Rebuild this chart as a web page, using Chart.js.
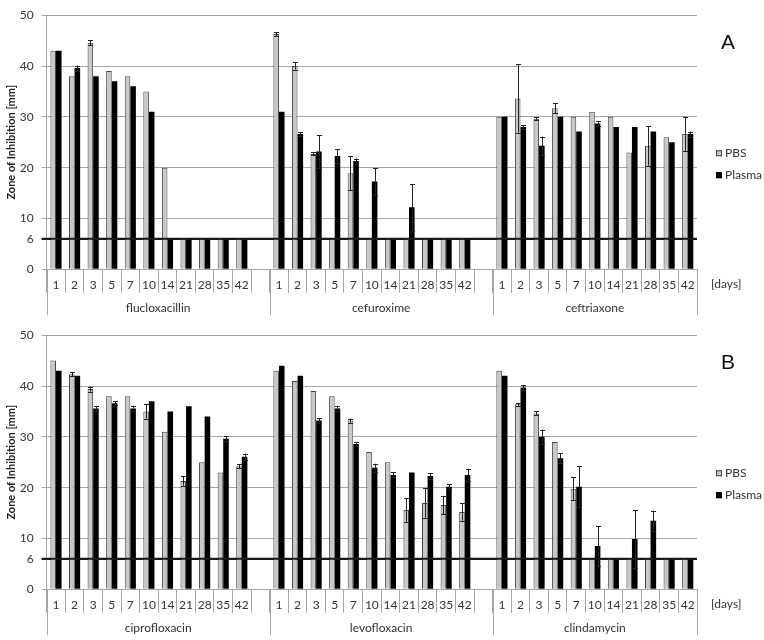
<!DOCTYPE html>
<html><head><meta charset="utf-8">
<script src="https://cdn.jsdelivr.net/npm/chart.js@4.4.1/dist/chart.umd.min.js"></script>
<style>html,body{margin:0;padding:0;background:#fff;}canvas{display:block;}</style>
</head><body>
<canvas id="cA" width="764" height="320"></canvas>
<canvas id="cB" width="764" height="320"></canvas>
<script>
// ---- data ----
const days = ['1','2','3','5','7','10','14','21','28','35','42'];
const yTickValues = [0, 6, 10, 20, 30, 40, 50];
const thresholdValue = 6;
const seriesNames = ['PBS', 'Plasma'];
const panelA_groups = ['flucloxacillin', 'cefuroxime', 'ceftriaxone'];
const panelB_groups = ['ciprofloxacin', 'levofloxacin', 'clindamycin'];

const flucloxacillin_PBS        = [43, 38, 44.6, 39, 38, 35, 20, 6, 6, 6, 6];
const flucloxacillin_PBS_err    = [0, 0, 0.5, 0, 0, 0, 0, 0, 0, 0, 0];
const flucloxacillin_Plasma     = [43, 39.6, 38, 37, 36, 31, 6, 6, 6, 6, 6];
const flucloxacillin_Plasma_err = [0, 0.5, 0, 0, 0, 0, 0, 0, 0, 0, 0];

const cefuroxime_PBS        = [46.3, 40, 22.7, 6, 18.9, 6, 6, 6, 6, 6, 6];
const cefuroxime_PBS_err    = [0.4, 0.7, 0.3, 0, 3.3, 0, 0, 0, 0, 0, 0];
const cefuroxime_Plasma     = [31, 26.6, 23.2, 22.3, 21.3, 17.3, 6, 12.2, 6, 6, 6];
const cefuroxime_Plasma_err = [0, 0.4, 3.2, 1.3, 0.5, 2.6, 0, 4.6, 0, 0, 0];

const ceftriaxone_PBS        = [30, 33.6, 29.6, 31.7, 30, 31, 30, 23, 24.3, 26, 26.6];
const ceftriaxone_PBS_err    = [0, 6.7, 0.3, 1.0, 0, 0, 0, 0, 3.9, 0, 3.4];
const ceftriaxone_Plasma     = [30, 28, 24.3, 30, 27.1, 28.7, 28, 28, 27.1, 25, 26.6];
const ceftriaxone_Plasma_err = [0, 0.3, 1.8, 0, 0, 0.5, 0, 0, 0, 0, 0.5];

const ciprofloxacin_PBS        = [45, 42.3, 39.4, 38, 38, 35, 31, 21.3, 25, 23, 24.2];
const ciprofloxacin_PBS_err    = [0, 0.4, 0.5, 0, 0, 1.4, 0, 0.9, 0, 0, 0.4];
const ciprofloxacin_Plasma     = [43, 42, 35.6, 36.6, 35.6, 37, 35, 36, 34, 29.6, 26.1];
const ciprofloxacin_Plasma_err = [0, 0, 0.5, 0.4, 0.5, 0, 0, 0, 0, 0.5, 0.6];

const levofloxacin_PBS        = [43, 41, 39, 38, 33.2, 27, 25, 15.6, 17, 16.6, 15.2];
const levofloxacin_PBS_err    = [0, 0, 0, 0, 0.4, 0, 0, 2.3, 2.9, 1.8, 1.7];
const levofloxacin_Plasma     = [44, 42, 33.2, 35.6, 28.6, 23.9, 22.5, 23, 22.3, 20.2, 22.5];
const levofloxacin_Plasma_err = [0, 0, 0.5, 0.5, 0.4, 0.8, 0.5, 0, 0.5, 0.5, 1.1];

const clindamycin_PBS        = [43, 36.4, 34.6, 29, 19.8, 6, 6, 6, 6, 6, 6];
const clindamycin_PBS_err    = [0, 0.3, 0.4, 0, 2.2, 0, 0, 0, 0, 0, 0];
const clindamycin_Plasma     = [42, 39.7, 30, 25.8, 20.2, 8.5, 6, 9.9, 13.5, 6, 6];
const clindamycin_Plasma_err = [0, 0.5, 1.4, 1.0, 4.1, 3.9, 0, 5.7, 2.0, 0, 0];

// ---- helpers ----
const FONT = 'Lato, "Open Sans", sans-serif';
function joinGroups(arrs, gapVal) {
  const out = [];
  arrs.forEach((a, i) => { out.push(...a); if (i < arrs.length - 1) out.push(gapVal); });
  return out;
}
const labels = joinGroups([days, days, days], '');

const decoPlugin = {
  id: 'deco',
  afterDatasetsDraw(chart) {
    const ctx = chart.ctx, ys = chart.scales.y, ca = chart.chartArea;
    ctx.save();
    // threshold line drawn over the bars
    const y6 = ys.getPixelForValue(thresholdValue);
    ctx.strokeStyle = '#1a1a1a';
    ctx.lineWidth = 2;
    ctx.beginPath(); ctx.moveTo(ca.left - 5, y6); ctx.lineTo(ca.right, y6); ctx.stroke();
    // error bars
    ctx.strokeStyle = '#222';
    ctx.lineWidth = 1;
    chart.data.datasets.forEach((ds, di) => {
      const meta = chart.getDatasetMeta(di);
      ds.errors.forEach((e, i) => {
        const v = ds.data[i];
        if (!e || v == null) return;
        const el = meta.data[i];
        const yt = ys.getPixelForValue(v + e), yb = ys.getPixelForValue(v - e);
        const cx = Math.round(el.x) + 0.5;
        ctx.beginPath();
        ctx.moveTo(cx, yt); ctx.lineTo(cx, yb);
        ctx.moveTo(cx - 2.5, Math.round(yt) + 0.5); ctx.lineTo(cx + 2.5, Math.round(yt) + 0.5);
        ctx.moveTo(cx - 2.5, Math.round(yb) + 0.5); ctx.lineTo(cx + 2.5, Math.round(yb) + 0.5);
        ctx.stroke();
      });
    });
    ctx.restore();
  },
  afterDraw(chart, args, opts) {
    const ctx = chart.ctx, xs = chart.scales.x, ca = chart.chartArea;
    ctx.save();
    const groups = opts.groups;
    const bounds = [];
    groups.forEach((g, gi) => {
      const s = gi * (days.length + 1) - 0.5;
      const e = Math.min(s + days.length + 1, labels.length - 0.5);
      bounds.push([s, e]);
    });
    ctx.strokeStyle = '#a6a6a6';
    ctx.lineWidth = 1;
    const sepX = [];
    bounds.forEach(b => { sepX.push(xs.getPixelForValue(b[0])); });
    sepX.push(xs.getPixelForValue(bounds[bounds.length - 1][1]));
    sepX.forEach(px => {
      const x = Math.round(px) + 0.5;
      ctx.beginPath(); ctx.moveTo(x, ca.bottom); ctx.lineTo(x, ca.bottom + 46); ctx.stroke();
    });
    ctx.fillStyle = '#333';
    ctx.font = '12px ' + FONT;
    ctx.textAlign = 'center';
    ctx.textBaseline = 'middle';
    groups.forEach((g, gi) => {
      const cx = (xs.getPixelForValue(bounds[gi][0]) + xs.getPixelForValue(bounds[gi][1])) / 2;
      ctx.fillText(g, cx, ca.bottom + 39);
    });
    ctx.textAlign = 'left';
    ctx.fillText('[days]', ca.right + 14, ca.bottom + 15);
    const lx = ca.right + 19;
    const items = [
      {t: seriesNames[0], fill: '#c8c8c8', stroke: '#444', y: ca.top + 138},
      {t: seriesNames[1], fill: '#000', stroke: '#000', y: ca.top + 160}
    ];
    items.forEach(it => {
      ctx.fillStyle = it.fill;
      ctx.fillRect(lx, it.y - 3, 6, 6);
      ctx.strokeStyle = it.stroke;
      ctx.strokeRect(lx + 0.5, it.y - 2.5, 5, 5);
      ctx.fillStyle = '#333';
      ctx.fillText(it.t, lx + 9, it.y);
    });
    ctx.fillStyle = '#111';
    ctx.font = '21px "Liberation Sans", Arial, sans-serif';
    ctx.textAlign = 'center';
    ctx.textBaseline = 'alphabetic';
    ctx.fillText(opts.letter, ca.right + 31, ca.top + 34);
    ctx.restore();
  }
};

function buildPanel(canvasId, groupNames, pbsArrs, pbsErrArrs, plasmaArrs, plasmaErrArrs, letter) {
  return new Chart(document.getElementById(canvasId), {
    type: 'bar',
    data: {
      labels: labels,
      datasets: [
        {
          label: seriesNames[0],
          data: joinGroups(pbsArrs, null),
          errors: joinGroups(pbsErrArrs, 0),
          backgroundColor: '#c8c8c8',
          borderColor: '#444',
          borderWidth: 1,
          categoryPercentage: 0.6,
          barPercentage: 1.0
        },
        {
          label: seriesNames[1],
          data: joinGroups(plasmaArrs, null),
          errors: joinGroups(plasmaErrArrs, 0),
          backgroundColor: '#000',
          borderColor: '#000',
          borderWidth: 0,
          categoryPercentage: 0.6,
          barPercentage: 1.0
        }
      ]
    },
    options: {
      responsive: false,
      animation: false,
      devicePixelRatio: 1,
      layout: { padding: { top: 9, right: 67, left: 0, bottom: 0 } },
      plugins: {
        legend: { display: false },
        tooltip: { enabled: false },
        deco: { groups: groupNames, letter: letter }
      },
      scales: {
        x: {
          type: 'category',
          offset: true,
          grid: {
            offset: true,
            drawOnChartArea: false,
            drawTicks: true,
            tickLength: 23.4,
            color: '#a6a6a6',
            lineWidth: 1
          },
          border: { display: true, color: '#a6a6a6', width: 1 },
          ticks: {
            autoSkip: false,
            maxRotation: 0,
            minRotation: 0,
            padding: -15,
            color: '#333',
            font: { family: FONT, size: 12 }
          },
          afterFit(scale) { scale.height = 50.7; }
        },
        y: {
          min: 0,
          max: 50,
          afterBuildTicks(scale) { scale.ticks = yTickValues.map(v => ({ value: v })); },
          grid: {
            color: ctx => (ctx.tick && ctx.tick.value === thresholdValue) ? '#1a1a1a' : '#a6a6a6',
            lineWidth: ctx => (ctx.tick && ctx.tick.value === thresholdValue) ? 2 : 1,
            tickColor: ctx => (ctx.tick && ctx.tick.value === thresholdValue) ? '#1a1a1a' : '#a6a6a6',
            tickLength: 5
          },
          border: { display: true, color: '#a6a6a6', width: 1 },
          ticks: {
            padding: 8,
            color: '#333',
            font: { family: FONT, size: 12 }
          },
          title: {
            display: true,
            text: 'Zone of Inhibition [mm]',
            color: '#222',
            font: { family: FONT, size: 11, weight: 'bold' },
            padding: { top: 5, bottom: 0 }
          },
          afterFit(scale) { scale.width = 46.7; }
        }
      }
    },
    plugins: [decoPlugin]
  });
}

buildPanel('cA', panelA_groups,
  [flucloxacillin_PBS, cefuroxime_PBS, ceftriaxone_PBS],
  [flucloxacillin_PBS_err, cefuroxime_PBS_err, ceftriaxone_PBS_err],
  [flucloxacillin_Plasma, cefuroxime_Plasma, ceftriaxone_Plasma],
  [flucloxacillin_Plasma_err, cefuroxime_Plasma_err, ceftriaxone_Plasma_err],
  'A');

buildPanel('cB', panelB_groups,
  [ciprofloxacin_PBS, levofloxacin_PBS, clindamycin_PBS],
  [ciprofloxacin_PBS_err, levofloxacin_PBS_err, clindamycin_PBS_err],
  [ciprofloxacin_Plasma, levofloxacin_Plasma, clindamycin_Plasma],
  [ciprofloxacin_Plasma_err, levofloxacin_Plasma_err, clindamycin_Plasma_err],
  'B');
</script>
</body></html>
